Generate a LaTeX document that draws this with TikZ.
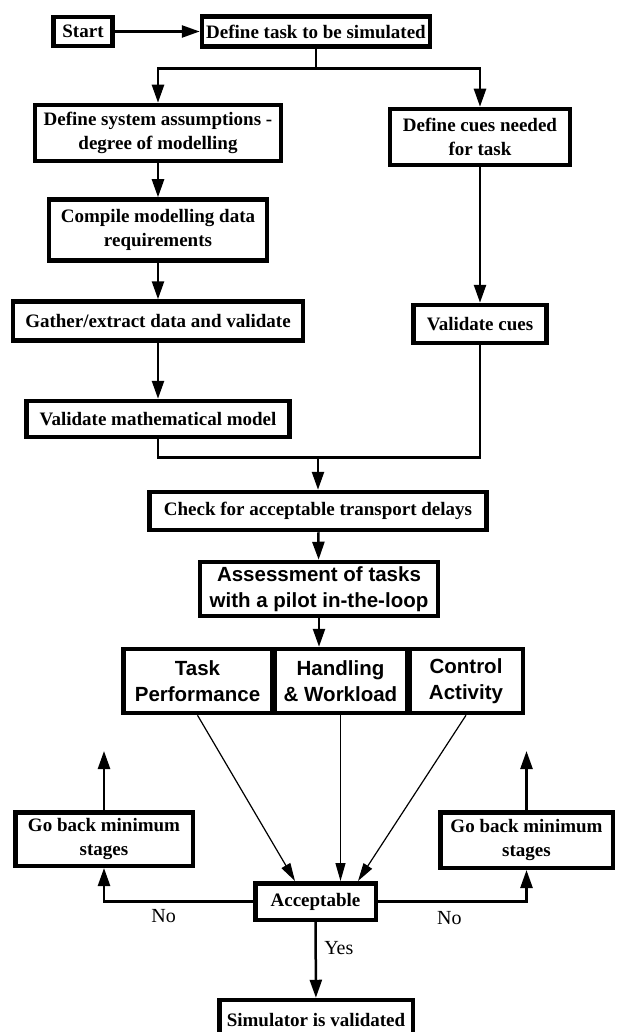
\documentclass[tikz,border=0pt]{standalone}
\usepackage{fontspec}
\setmainfont{Liberation Serif}
\setsansfont{Liberation Sans}
\usetikzlibrary{arrows.meta}

\begin{document}
\begin{tikzpicture}[x=1pt,y=-1pt,>={Triangle[length=18pt,width=12pt]}]

    \useasboundingbox (0,0) rectangle (616,1032);

        \begin{scope}[every node/.style={rectangle,draw,line width=4.5pt,fill=white,align=center,inner sep=2pt,font=\fontsize{19}{24}\selectfont\bfseries},
                      sansbox/.style={font=\fontsize{20.5}{26}\selectfont\sffamily\bfseries}]
            \node[minimum width=59pt,minimum height=29pt] (1) at (83,31.5) {Start};
            \node[minimum width=228pt,minimum height=30pt] (2) at (316,31.5) {Define task to be simulated};
            \node[minimum width=246pt,minimum height=56pt] (3) at (158,133) {Define system assumptions -\\degree of modelling};
            \node[minimum width=180pt,minimum height=56pt] (4) at (480,137) {Define cues needed\\for task};
            \node[minimum width=218pt,minimum height=61pt] (5) at (158,230) {Compile modelling data\\requirements};
            \node[minimum width=290pt,minimum height=39pt] (6) at (158,321) {Gather/extract data and validate};
            \node[minimum width=263pt,minimum height=36pt] (7) at (158,419) {Validate mathematical model};
            \node[minimum width=133pt,minimum height=38pt] (8) at (480,324) {Validate cues};
            \node[minimum width=337pt,minimum height=38pt] (9) at (318,511) {Check for acceptable transport delays};
            \node[sansbox,minimum width=238pt,minimum height=54pt] (10) at (319,589) {Assessment of tasks\\with a pilot in-the-loop};
            \node[sansbox,minimum width=148.5pt,minimum height=64pt] (11) at (197.5,681) {Task\\Performance};
            \node[sansbox,minimum width=132.5pt,minimum height=64pt] (12) at (340.5,681) {Handling\\\& Workload};
            \node[sansbox,minimum width=113.5pt,minimum height=64pt] (13) at (466,681) {Control\\Activity};
            \node[minimum width=120.5pt,minimum height=36.5pt] (14) at (315.5,901.5) {Acceptable};
            \node[minimum width=177.5pt,minimum height=53.5pt] (15) at (104,839) {Go back minimum\\stages};
            \node[minimum width=172.5pt,minimum height=55.5pt] (16) at (526.5,840) {Go back minimum\\stages};
            \node[minimum width=193.5pt,minimum height=40pt] (17) at (316,1020) {Simulator is validated};
        \end{scope}

        \coordinate (a) at (104,751);
        \coordinate (b) at (526.5,751);
        \coordinate (j) at (318,456);

        \begin{scope}[every node/.style={font=\fontsize{20}{24}\selectfont}, every edge/.style={draw,line width=2.5pt}]
            \path [->] (1) edge (2);

            \draw [->,line width=2.5pt] (2.south) -- ++(0,20) -| (3.north);
            \draw [->,line width=2.5pt] (2.south) -- ++(0,20) -| (4.north);

            \path [->] (3) edge (5);
            \path [->] (5) edge (6);
            \path [->] (6) edge (7);
            \path [->] (4) edge (8);

            \draw [line width=2.5pt] (7.south) -- ++(0,18) -| (8.south);
            \path [->] (j) edge (9.north);

            \path [->] (9) edge (10);
            \path [->] (10.south) edge (10.south |- 12.north);

            \draw [->,line width=1.2pt,>={Triangle[length=18pt,width=10pt]}] (11.south) -- ([xshift=42pt]14.north west);
            \draw [->,line width=1.2pt,>={Triangle[length=18pt,width=10pt]}] (12.south) -- (12.south |- 14.north);
            \draw [->,line width=1.2pt,>={Triangle[length=18pt,width=10pt]}] (13.south) -- ([xshift=-20pt]14.north east);

            \path [->] (15) edge (a);
            \path [->] (16) edge (b);

            \draw [->,line width=2.5pt] (14.west) -| node[pos=0.3,below=3pt] {No} (15.south);
            \draw [->,line width=2.5pt] (14.east) -| node[pos=0.24,below=5pt] {No} (16.south);

            \path [->] (14) edge node[pos=0.35,right=4pt] {Yes} (17);
        \end{scope}

    \end{tikzpicture}
\end{document}
